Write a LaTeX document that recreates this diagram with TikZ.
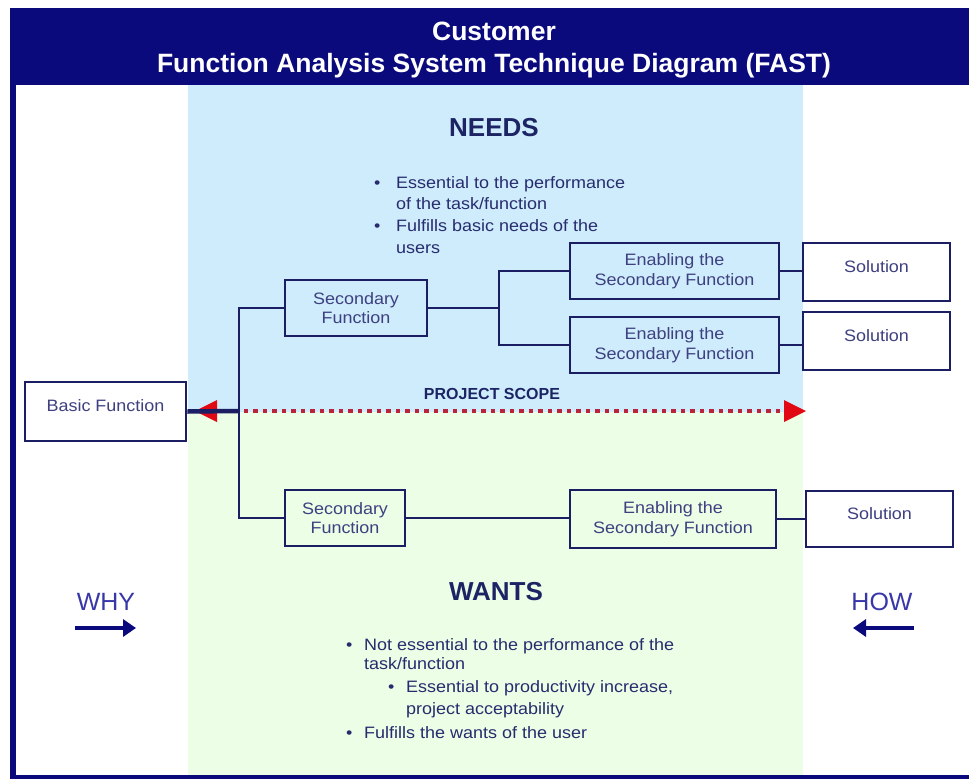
\documentclass[tikz,border=0pt]{standalone}
\usepackage{fontspec}
\setmainfont{Liberation Sans}
\newfontfamily\bodyfont{Liberation Sans}[FakeStretch=1.09]
\usetikzlibrary{arrows.meta}

\definecolor{navy}{RGB}{10,10,125}
\definecolor{boxline}{RGB}{28,30,100}
\definecolor{boxtext}{RGB}{62,64,128}
\definecolor{headtext}{RGB}{28,36,100}
\definecolor{bodytext}{RGB}{40,44,110}
\definecolor{dirtext}{RGB}{55,55,170}
\definecolor{needsbg}{RGB}{206,236,252}
\definecolor{wantsbg}{RGB}{236,254,230}
\definecolor{scopered}{RGB}{225,10,20}
\definecolor{scopedot}{RGB}{185,35,60}

\tikzset{
  fbox/.style={draw=boxline, line width=2.6pt, align=center, text=boxtext,
    font=\bodyfont\fontsize{16.5}{19.5}\selectfont, inner sep=0pt},
  conn/.style={draw=boxline, line width=2.4pt},
  heading/.style={font=\bfseries\fontsize{26}{30}\selectfont, text=headtext},
  dirlabel/.style={font=\fontsize{25}{30}\selectfont, text=dirtext},
  dirarrow/.style={draw=navy, line width=3.5pt, -{Triangle[length=13pt,width=17pt]}},
  bullets/.style={align=left, text=bodytext, inner sep=0pt,
    font=\bodyfont\fontsize{16.5}{21.7}\selectfont}
}

\begin{document}
\begin{tikzpicture}[x=1pt,y=-1pt]
  \useasboundingbox (0,0) rectangle (969,782);
  \fill[white] (0,0) rectangle (969,782);

  % background bands: needs above the scope line, wants below
  \fill[needsbg] (188,85) rectangle (803,412);
  \fill[wantsbg] (188,412) rectangle (803,777);

  % frame and title bar
  \fill[navy] (10,8) rectangle (969,85);
  \fill[navy] (10,85) rectangle (16,779);
  \fill[navy] (10,775) rectangle (969,779);
  \node[text=white, align=center, font=\bfseries\fontsize{26.5}{32}\selectfont]
    (title) at (494,50) {Customer\\Function Analysis System Technique Diagram (FAST)};

  % headings and notes
  \node[heading] (needs) at (494,128) {NEEDS};
  \node[heading] (wants) at (496,592) {WANTS};

  \node[bullets, anchor=north west] (needsnotes) at (374,176)
    {\makebox[22pt][l]{\textbullet}Essential to the performance\\
     \hspace*{22pt}of the task/function\\
     \makebox[22pt][l]{\textbullet}Fulfills basic needs of the\\
     \hspace*{22pt}users};

  \node[bullets, anchor=north west] (wantsnotes) at (346,638)
    {\makebox[18pt][l]{\textbullet}Not essential to the performance of the\\[-2pt]
     \hspace*{18pt}task/function\\[1pt]
     \hspace*{42pt}\makebox[18pt][l]{\textbullet}Essential to productivity increase,\\
     \hspace*{60pt}project acceptability\\[3pt]
     \makebox[18pt][l]{\textbullet}Fulfills the wants of the user};

  % why / how
  \node[dirlabel] (why) at (106,602) {WHY};
  \node[dirlabel] (how) at (882,602) {HOW};
  \coordinate (whyS) at (75,628);
  \coordinate (whyE) at (136,628);
  \coordinate (howS) at (914,628);
  \coordinate (howE) at (853,628);
  \draw[dirarrow] (whyS) -- (whyE);
  \draw[dirarrow] (howS) -- (howE);

  % function boxes
  \node[fbox, minimum width=161pt, minimum height=59pt, fill=white] (basic) at (105.5,411.5) {\smash{Basic Function}};
  \node[fbox, minimum width=142pt, minimum height=56pt] (secA) at (356,308) {Secondary\\Function};
  \node[fbox, minimum width=120pt, minimum height=56pt] (secB) at (345,518) {Secondary\\Function};
  \node[fbox, minimum width=209pt, minimum height=56pt] (enA) at (674.5,271) {Enabling the\\Secondary Function};
  \node[fbox, minimum width=209pt, minimum height=56pt] (enB) at (674.5,345) {Enabling the\\Secondary Function};
  \node[fbox, minimum width=206pt, minimum height=58pt] (enC) at (673,519) {Enabling the\\Secondary Function};
  \node[fbox, minimum width=147pt, minimum height=58pt, fill=white] (solA) at (876.5,272) {\smash{Solution}};
  \node[fbox, minimum width=147pt, minimum height=58pt, fill=white] (solB) at (876.5,341) {\smash{Solution}};
  \node[fbox, minimum width=147pt, minimum height=56pt, fill=white] (solC) at (879.5,519) {\smash{Solution}};

  % project scope
  \coordinate (scopeL) at (195,411);
  \coordinate (scopeR) at (806,411);
  \draw[scopedot, line width=4.5pt, dash pattern=on 4.5pt off 5pt, shorten <=20pt, shorten >=20pt]
    (scopeL) -- (scopeR);
  \fill[scopered] (scopeL) -- ++(22,-11) -- ++(0,22) -- cycle;
  \fill[scopered] (scopeR) -- ++(-22,-11) -- ++(0,22) -- cycle;
  \node[font=\bfseries\fontsize{16}{18}\selectfont, text=headtext] (scope) at (492,394) {PROJECT SCOPE};

  % connectors
  \coordinate (jl) at (239,411);
  \coordinate (jt) at (499,308);
  \draw[conn, line width=4.5pt] (basic.east) -- (jl);
  \draw[conn] (secA.west) -| (jl) |- (secB.west);
  \draw[conn] (secA.east) -- (jt);
  \draw[conn] (enA.west) -| (jt) |- (enB.west);
  \draw[conn] (enA.east) -- (enA.east -| solA.west);
  \draw[conn] (enB.east) -- (enB.east -| solB.west);
  \draw[conn] (secB.east) -- (secB.east -| enC.west);
  \draw[conn] (enC.east) -- (solC.west);
\end{tikzpicture}
\end{document}
